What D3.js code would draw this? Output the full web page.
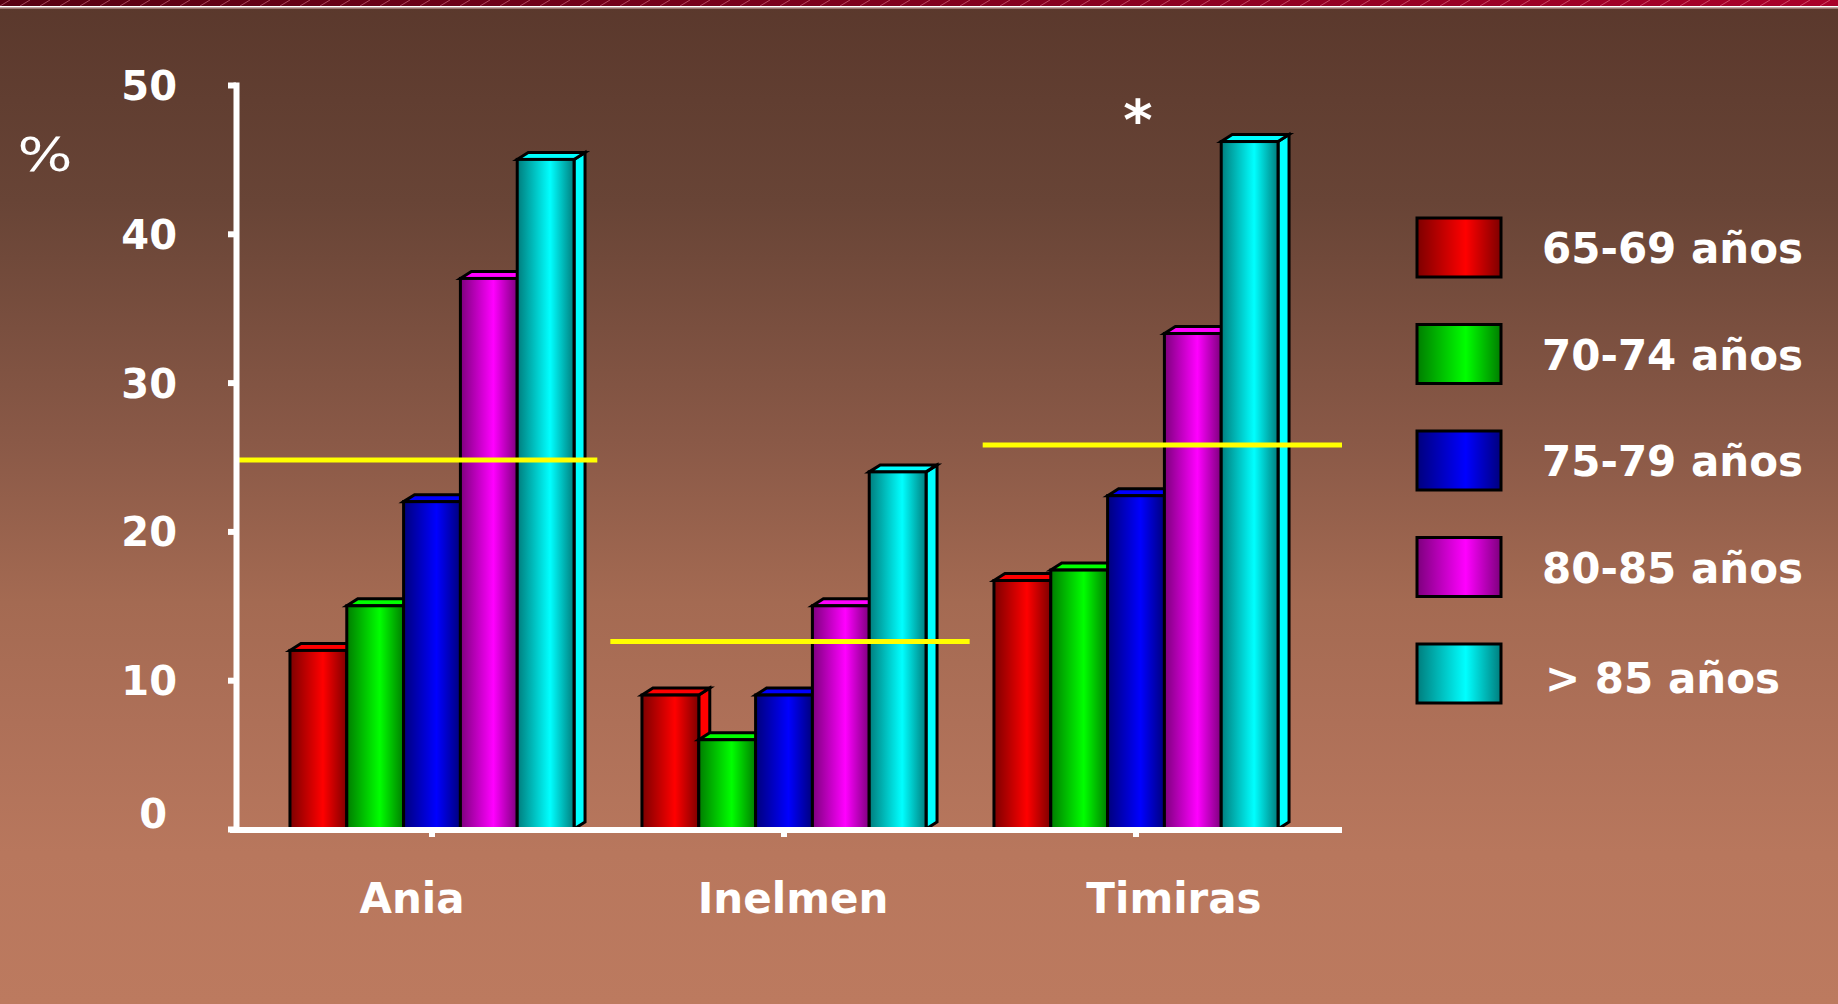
<!DOCTYPE html>
<html>
<head>
<meta charset="utf-8">
<script src="https://cdnjs.cloudflare.com/ajax/libs/d3/7.8.5/d3.min.js"></script>
<style>
  html, body { margin: 0; padding: 0; overflow: hidden; background: #5a392d; }
  text { font-family: "DejaVu Sans", Verdana, sans-serif; fill: #fff; }
</style>
</head>
<body>
<svg id="chart" width="1838" height="1004"></svg>
<script>
const categories = ['Ania', 'Inelmen', 'Timiras'];
const ageGroups = ['65-69 años', '70-74 años', '75-79 años', '80-85 años', '> 85 años'];
// one array per age group, values for Ania / Inelmen / Timiras
const seriesValues = [
  [12, 9, 16.7],
  [15, 6, 17.4],
  [22, 9, 22.4],
  [37, 15, 33.3],
  [45, 24, 46.2]
];
const meanValues = [24.8, 12.6, 25.8];   // yellow reference lines
const yTicks = [0, 10, 20, 30, 40, 50];
const markedCategory = 'Timiras';          // the "*"
const barColors = ['#ff0000', '#00ff00', '#0000ff', '#ff00ff', '#00ffff'];

const W = 1838, H = 1004;
const svg = d3.select('#chart');
const defs = svg.append('defs');

// background
const bg = defs.append('linearGradient').attr('id', 'bg').attr('x1', 0).attr('y1', 0).attr('x2', 0).attr('y2', 1);
[[0, '#5a382c'], [0.2, '#684436'], [0.44, '#8a5947'], [0.6, '#a46a52'], [0.72, '#ae7058'], [0.85, '#b8775d'], [1, '#bc7a5f']]
  .forEach(([o, c]) => bg.append('stop').attr('offset', o).attr('stop-color', c));
svg.append('rect').attr('width', W).attr('height', H).attr('fill', 'url(#bg)');

// top stripe
const st = defs.append('linearGradient').attr('id', 'stripe');
st.append('stop').attr('offset', 0).attr('stop-color', '#580012');
st.append('stop').attr('offset', 1).attr('stop-color', '#aa002a');
const hatch = defs.append('pattern').attr('id', 'hatch').attr('patternUnits', 'userSpaceOnUse')
  .attr('width', 20).attr('height', 6);
hatch.append('line').attr('x1', 0).attr('y1', 6).attr('x2', 10).attr('y2', 0)
  .attr('stroke', 'rgba(255,160,180,0.45)').attr('stroke-width', 1);
svg.append('rect').attr('width', W).attr('height', 6).attr('fill', 'url(#stripe)');
svg.append('rect').attr('width', W).attr('height', 6).attr('fill', 'url(#hatch)');
svg.append('rect').attr('y', 6).attr('width', W).attr('height', 1.5).attr('fill', '#ffffff');
svg.append('rect').attr('y', 7.5).attr('width', W).attr('height', 1).attr('fill', '#d8b0b0');

// bar gradients
barColors.forEach((c, i) => {
  const dark = d3.color(c).darker(2).formatHex();
  const g = defs.append('linearGradient').attr('id', 'bar' + i);
  g.append('stop').attr('offset', 0).attr('stop-color', dark);
  g.append('stop').attr('offset', 0.58).attr('stop-color', c);
  g.append('stop').attr('offset', 1).attr('stop-color', dark);
});

// scales
const y = d3.scaleLinear().domain([0, 50]).range([829, 85]);
const x0 = d3.scaleBand().domain(categories).range([256, 1312]).paddingInner(0.193).paddingOuter(0.0965);
const x1 = d3.scaleBand().domain(ageGroups).range([0, x0.bandwidth()]);
const xLabel = d3.scalePoint().domain(categories).range([412, 1174]);
const xMean = d3.scaleBand().domain(categories).range([238, 1342]).paddingInner(0.035);

const depthX = 11, depthY = 7;

// bars, drawn left to right so each front hides the previous side face
const bars = [];
categories.forEach((cat, ci) => {
  ageGroups.forEach((grp, si) => {
    bars.push({ cat, si, value: seriesValues[si][ci] });
  });
});

const barG = svg.append('g').attr('stroke', '#000').attr('stroke-width', 3).attr('stroke-linejoin', 'miter');
bars.forEach(d => {
  const xl = x0(d.cat) + x1(ageGroups[d.si]);
  const xr = xl + x1.bandwidth();
  const yt = y(d.value), yb = y(0);
  const g = barG.append('g');
  g.append('path') // side
    .attr('d', `M${xr},${yt}L${xr + depthX},${yt - depthY}L${xr + depthX},${yb - depthY}L${xr},${yb}Z`)
    .attr('fill', barColors[d.si]);
  g.append('path') // top
    .attr('d', `M${xl},${yt}L${xl + depthX},${yt - depthY}L${xr + depthX},${yt - depthY}L${xr},${yt}Z`)
    .attr('fill', barColors[d.si]);
  g.append('rect')
    .attr('x', xl).attr('y', yt).attr('width', xr - xl).attr('height', yb - yt)
    .attr('fill', `url(#bar${d.si})`);
});

// yellow reference lines
svg.append('g').selectAll('line').data(categories).join('line')
  .attr('x1', d => xMean(d)).attr('x2', d => xMean(d) + xMean.bandwidth())
  .attr('y1', (d, i) => y(meanValues[i])).attr('y2', (d, i) => y(meanValues[i]))
  .attr('stroke', '#ffff00').attr('stroke-width', 5);

// y axis
const yAxis = svg.append('g').attr('transform', 'translate(236,0)')
  .call(d3.axisLeft(y).tickValues(yTicks).tickSize(8).tickSizeOuter(0).tickPadding(51));
yAxis.select('.domain').attr('stroke', '#fff').attr('stroke-width', 6).attr('stroke-linecap', 'square');
yAxis.selectAll('.tick line').attr('stroke', '#fff').attr('stroke-width', 6);
yAxis.selectAll('.tick text')
  .attr('fill', '#fff').attr('font-size', 40).attr('font-weight', 'bold')
  .attr('font-family', '"DejaVu Sans", Verdana, sans-serif')
  .attr('dy', '0.36em')
  .attr('transform', d => d === 0 ? 'translate(-10,-16)' : null);

// x axis
svg.append('line').attr('x1', 230).attr('x2', 1342).attr('y1', 830).attr('y2', 830)
  .attr('stroke', '#fff').attr('stroke-width', 6);
const xAxis = svg.append('g').attr('transform', 'translate(0,830)')
  .call(d3.axisBottom(x0).tickSize(7).tickFormat(''));
xAxis.select('.domain').remove();
xAxis.selectAll('.tick line').attr('stroke', '#fff').attr('stroke-width', 6);

svg.append('g').selectAll('text').data(categories).join('text')
  .attr('x', d => xLabel(d)).attr('y', 913)
  .attr('text-anchor', 'middle').attr('font-size', 42).attr('font-weight', 'bold')
  .text(d => d);

// % label
svg.append('text').attr('x', 45).attr('y', 171).attr('text-anchor', 'middle')
  .attr('font-size', 47).attr('font-weight', 500)
  .attr('textLength', 55).attr('lengthAdjust', 'spacingAndGlyphs')
  .text('%');

// significance mark
svg.append('text').attr('x', x0(markedCategory) + x0.bandwidth() / 2 + 2).attr('y', 139)
  .attr('text-anchor', 'middle').attr('font-size', 56).attr('font-weight', 'bold')
  .text('*');

// legend
const legend = svg.append('g').attr('transform', 'translate(1417,218)');
const item = legend.selectAll('g').data(ageGroups).join('g')
  .attr('transform', (d, i) => `translate(0,${i * 106.5})`);
item.append('rect').attr('width', 84).attr('height', 59)
  .attr('fill', (d, i) => `url(#bar${i})`).attr('stroke', '#000').attr('stroke-width', 3);
item.append('text').attr('x', d => d.startsWith('>') ? 128 : 125)
  .attr('y', (d, i) => i === 4 ? 49 : 45)
  .attr('font-size', 42).attr('font-weight', 'bold')
  .text(d => d);
</script>
</body>
</html>
